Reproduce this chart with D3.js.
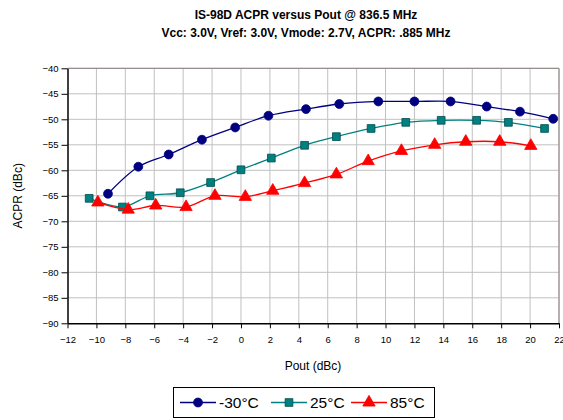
<!DOCTYPE html>
<html>
<head>
<meta charset="utf-8">
<script src="https://cdn.jsdelivr.net/npm/d3@7"></script>
<style>
  body { margin: 0; background: #fff; }
  svg { font-family: "Liberation Sans", Arial, sans-serif; }
</style>
</head>
<body>
<div id="chart"></div>
<script>
// series data (Pout dBc, ACPR dBc)
const coldX = [-9.2, -7.1, -5.0, -2.7, -0.4, 1.9, 4.5, 6.8, 9.5, 12.0, 14.5, 17.0, 19.3, 21.6];
const coldY = [-64.6, -59.3, -56.9, -54.0, -51.6, -49.3, -48.0, -47.0, -46.5, -46.5, -46.5, -47.5, -48.5, -49.9];
const roomX = [-10.5, -8.2, -6.3, -4.2, -2.1, 0.0, 2.1, 4.4, 6.6, 9.0, 11.4, 13.85, 16.3, 18.5, 21.0];
const roomY = [-65.5, -67.2, -65.0, -64.4, -62.4, -59.9, -57.6, -55.1, -53.4, -51.8, -50.6, -50.2, -50.2, -50.6, -51.8];
const hotX = [-9.9, -7.8, -5.9, -3.8, -1.8, 0.3, 2.2, 4.4, 6.6, 8.8, 11.1, 13.4, 15.55, 17.9, 20.05];
const hotY = [-66.3, -67.7, -66.9, -67.2, -65.0, -65.2, -64.0, -62.5, -60.8, -58.2, -56.2, -55.0, -54.4, -54.4, -55.2];

const xTicks = d3.range(-12, 23, 2);
const yTicks = d3.range(-90, -39, 5);
const seriesNames = ["-30°C", "25°C", "85°C"];

const width = 563, height = 420;
const margin = {top: 68.3, right: 4, bottom: 96.7, left: 67.5};

const svg = d3.select("#chart").append("svg")
    .attr("width", width)
    .attr("height", height);

const x = d3.scaleLinear().domain([-12, 22]).range([margin.left, width - margin.right]);
const y = d3.scaleLinear().domain([-90, -40]).range([height - margin.bottom, margin.top]);

// titles
svg.append("text")
    .attr("x", 306).attr("y", 19)
    .attr("text-anchor", "middle")
    .attr("font-size", "12px").attr("font-weight", "bold")
    .text("IS-98D ACPR versus Pout @ 836.5 MHz");
svg.append("text")
    .attr("x", 306).attr("y", 37)
    .attr("text-anchor", "middle")
    .attr("font-size", "12px").attr("font-weight", "bold")
    .text("Vcc: 3.0V, Vref: 3.0V, Vmode: 2.7V, ACPR: .885 MHz");

// grid
svg.append("g").selectAll("line.v")
    .data(xTicks.slice(1))
    .enter().append("line")
    .attr("x1", d => x(d)).attr("x2", d => x(d))
    .attr("y1", y(-40)).attr("y2", y(-90))
    .attr("stroke", "#c0c0c0").attr("stroke-width", 1);
svg.append("g").selectAll("line.h")
    .data(yTicks.slice(1))
    .enter().append("line")
    .attr("x1", x(-12)).attr("x2", x(22))
    .attr("y1", d => y(d)).attr("y2", d => y(d))
    .attr("stroke", "#c0c0c0").attr("stroke-width", 1);

// plot border (top + right)
svg.append("path")
    .attr("d", `M${x(-12)},${y(-40)}H${x(22)}V${y(-90)}`)
    .attr("fill", "none").attr("stroke", "#8c8080").attr("stroke-width", 1);

// axes
const xAxis = d3.axisBottom(x).tickValues(xTicks).tickSize(5).tickSizeOuter(0);
const yAxis = d3.axisLeft(y).tickValues(yTicks).tickSize(6).tickSizeOuter(0);

const gx = svg.append("g")
    .attr("transform", `translate(0,${y(-90)})`)
    .call(xAxis);
const gy = svg.append("g")
    .attr("transform", `translate(${x(-12)},0)`)
    .call(yAxis);

[gx, gy].forEach(g => {
    g.select(".domain").attr("stroke", "#000").attr("stroke-width", 1.5);
    g.selectAll(".tick line").attr("stroke", "#000");
    g.selectAll("text").attr("font-size", "9.5px").attr("fill", "#000")
        .attr("font-family", "Liberation Sans, Arial, sans-serif");
});
gx.selectAll("text").attr("dy", "1.2em");

// axis titles
svg.append("text")
    .attr("x", 313).attr("y", 370)
    .attr("text-anchor", "middle")
    .attr("font-size", "12px")
    .text("Pout (dBc)");
svg.append("text")
    .attr("transform", `translate(22,${(y(-40) + y(-90)) / 2}) rotate(-90)`)
    .attr("text-anchor", "middle")
    .attr("font-size", "12px")
    .text("ACPR (dBc)");

// series
const series = [
    {name: seriesNames[0], xs: coldX, ys: coldY, color: "#000080", stroke: "#000080", shape: d3.symbolCircle, size: 62},
    {name: seriesNames[1], xs: roomX, ys: roomY, color: "#008080", stroke: "#004d4d", shape: d3.symbolSquare, size: 60},
    {name: seriesNames[2], xs: hotX, ys: hotY, color: "#ff0000", stroke: "#ff0000", shape: d3.symbolTriangle, size: 66}
];

const line = d3.line()
    .x(d => x(d[0]))
    .y(d => y(d[1]))
    .curve(d3.curveCatmullRom.alpha(0.5));

series.forEach(s => {
    let pts = s.xs.map((v, i) => [v, s.ys[i]]);

    svg.append("path")
        .datum(pts)
        .attr("d", line)
        .attr("fill", "none")
        .attr("stroke", s.color)
        .attr("stroke-width", 1.3);

    svg.append("g").selectAll("path")
        .data(pts)
        .enter().append("path")
        .attr("d", d3.symbol().type(s.shape).size(s.size))
        .attr("transform", d => `translate(${x(d[0])},${y(d[1])})`)
        .attr("fill", s.color)
        .attr("stroke", s.stroke)
        .attr("stroke-width", 0.8);
});

// legend
const legend = svg.append("g");
legend.append("rect")
    .attr("x", 173.5).attr("y", 387.5)
    .attr("width", 261).attr("height", 30)
    .attr("fill", "#fff").attr("stroke", "#000").attr("stroke-width", 1);

const legendX = [180, 271, 351];
series.forEach((s, i) => {
    let lx = legendX[i];
    legend.append("line")
        .attr("x1", lx).attr("x2", lx + 36)
        .attr("y1", 402.5).attr("y2", 402.5)
        .attr("stroke", s.color).attr("stroke-width", 1.3);
    legend.append("path")
        .attr("d", d3.symbol().type(s.shape).size(s.size))
        .attr("transform", `translate(${lx + 18},402.5)`)
        .attr("fill", s.color)
        .attr("stroke", s.stroke)
        .attr("stroke-width", 0.8);
    legend.append("text")
        .attr("x", lx + 39).attr("y", 408)
        .attr("font-size", "15.5px")
        .text(s.name);
});
</script>
</body>
</html>
